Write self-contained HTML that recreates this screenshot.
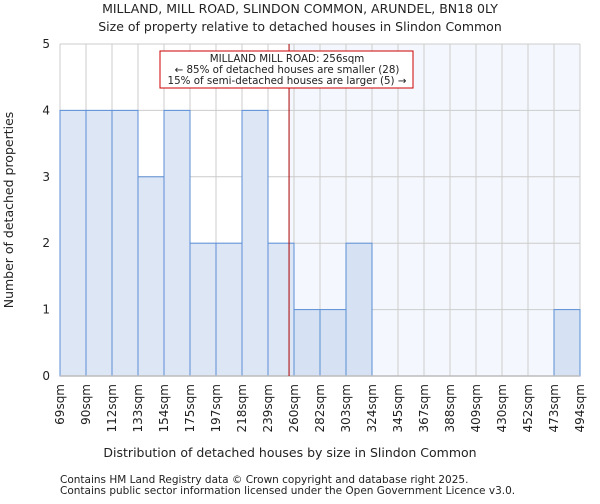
<!DOCTYPE html>
<html><head><meta charset="utf-8"><style>
body{margin:0;background:#fff;font-family:"DejaVu Sans","Liberation Sans",sans-serif;}
svg text{font-family:"DejaVu Sans","Liberation Sans",sans-serif;fill:#222;}
</style></head><body>
<svg id="c" width="600" height="500" xmlns="http://www.w3.org/2000/svg">
<text x="300" y="13" text-anchor="middle" font-size="12.5">MILLAND, MILL ROAD, SLINDON COMMON, ARUNDEL, BN18 0LY</text>
<text x="300" y="31" text-anchor="middle" font-size="12.5">Size of property relative to detached houses in Slindon Common</text>
<g id="plot"></g>
<text x="290" y="457" text-anchor="middle" font-size="12.5">Distribution of detached houses by size in Slindon Common</text>
<text transform="translate(13,210) rotate(-90)" text-anchor="middle" font-size="12.5">Number of detached properties</text>
<text x="60" y="483" font-size="10.5">Contains HM Land Registry data © Crown copyright and database right 2025.</text>
<text x="60" y="494" font-size="10.5">Contains public sector information licensed under the Open Government Licence v3.0.</text>
</svg>
<script>
const binLabels=["69sqm","90sqm","112sqm","133sqm","154sqm","175sqm","197sqm","218sqm","239sqm","260sqm","282sqm","303sqm","324sqm","345sqm","367sqm","388sqm","409sqm","430sqm","452sqm","473sqm","494sqm"];
const binEdges=[69,90,112,133,154,175,197,218,239,260,282,303,324,345,367,388,409,430,452,473,494];
const counts=[4,4,4,3,4,2,2,4,2,1,1,2,0,0,0,0,0,0,0,1];
const yTicks=[0,1,2,3,4,5];
const propertySize=256;
const annotation=["MILLAND MILL ROAD: 256sqm","← 85% of detached houses are smaller (28)","15% of semi-detached houses are larger (5) →"];

const NS="http://www.w3.org/2000/svg";
const L=60,R=580,T=44,B=376,n=counts.length,bw=(R-L)/n;
const xi=i=>L+i*bw;
const xv=v=>{for(let i=0;i<binEdges.length-1;i++){if(v<=binEdges[i+1])return xi(i)+bw*(v-binEdges[i])/(binEdges[i+1]-binEdges[i]);}return R;};
const y=v=>B-(B-T)*v/5;
const g=document.getElementById('plot');
function mk(t,a){const e=document.createElementNS(NS,t);for(const k in a)e.setAttribute(k,a[k]);g.appendChild(e);return e;}
const px=xv(propertySize);
let e=mk('rect',{x:px,y:T,width:R-px,height:B-T,fill:'#f4f7fd'});


for(let i=0;i<=n;i++){e=mk('line',{x1:xi(i),x2:xi(i),y1:T,y2:B,stroke:'#cccccc','stroke-width':1});

}
yTicks.forEach(t=>{e=mk('line',{x1:L,x2:R,y1:y(t),y2:y(t),stroke:'#cccccc','stroke-width':1});


e=mk('text',{x:L-10,y:y(t)+4,'text-anchor':'end','font-size':12});e.textContent=t;

});
counts.forEach((c,i)=>{if(c<=0)return;
const right=xi(i)>=px;
e=mk('rect',{x:xi(i),y:y(c),width:bw,height:B-y(c),fill:right?'#d6e2f3':'#dce6f4',stroke:'#5b8fd6','stroke-width':1});

});
binLabels.forEach((l,i)=>{const xx=xi(i);
e=mk('text',{transform:`translate(${xx+4},${B+8}) rotate(-90)`,'text-anchor':'end','font-size':12});e.textContent=l;

});
e=mk('line',{x1:L,x2:R,y1:B,y2:B,stroke:'#bbbbbb','stroke-width':1.5});


e=mk('line',{x1:px,x2:px,y1:T,y2:B,stroke:'#aa0000','stroke-width':1});


e=mk('rect',{x:160,y:51,width:253,height:37,fill:'#fff',stroke:'#cc0000','stroke-width':1});


annotation.forEach((s,i)=>{e=mk('text',{x:287,y:62+i*11,'text-anchor':'middle','font-size':10.3});e.textContent=s;

});
</script>
</body></html>
